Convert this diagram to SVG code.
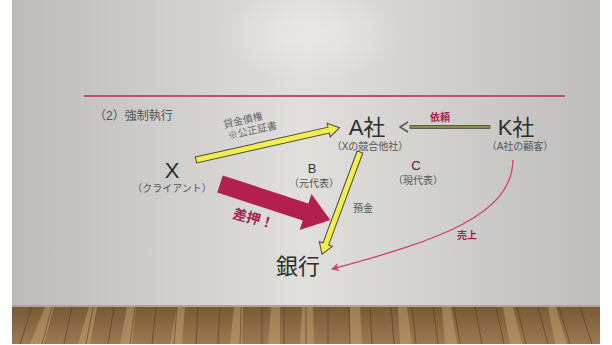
<svg xmlns="http://www.w3.org/2000/svg" width="612" height="345" viewBox="0 0 612 345">
<defs>
<linearGradient id="wall" x1="0" y1="0" x2="1" y2="0">
<stop offset="0" stop-color="#bdbbb9"/>
<stop offset="0.5" stop-color="#e0dfdc"/>
<stop offset="1" stop-color="#bfbdbb"/>
</linearGradient>
<radialGradient id="glow" cx="0.5" cy="0.5" r="0.5">
<stop offset="0" stop-color="#e9e8e5" stop-opacity="1"/>
<stop offset="1" stop-color="#e9e8e5" stop-opacity="0"/>
</radialGradient>
<linearGradient id="floor" x1="0" y1="0" x2="0" y2="1">
<stop offset="0" stop-color="#7a5a36"/>
<stop offset="1" stop-color="#9a7a52"/>
</linearGradient>
<marker id="pinkHead" markerWidth="8" markerHeight="8" refX="7" refY="4" orient="auto" markerUnits="userSpaceOnUse">
<path d="M0,0 L8,4 L0,8 L2,4 Z" fill="#d04070"/>
</marker>
<style>
.big{font-family:"Liberation Sans","Noto Sans CJK JP",sans-serif;font-size:22px;fill:#2e2e2e}
.sub{font-family:"Liberation Sans","Noto Sans CJK JP",sans-serif;font-size:10px;fill:#555}
.mid{font-family:"Liberation Sans","Noto Sans CJK JP",sans-serif;font-size:13px;fill:#333}
.red{font-family:"Noto Sans CJK JP",sans-serif;font-weight:bold;fill:#a82050}
.yel{fill:#f2ee50;stroke:#4a4a40;stroke-width:1}
</style>
</defs>
<rect width="612" height="345" fill="#ffffff"/>
<rect x="12" y="0" width="588" height="308" fill="url(#wall)"/>
<ellipse cx="310" cy="35" rx="90" ry="45" fill="url(#glow)"/>
<rect x="12" y="305" width="588" height="3" fill="#a9a6a2"/>
<g id="floor">
<rect x="12" y="307" width="588" height="37" fill="url(#floor)"/>
<g fill="#c8a878" opacity="0.45">
<polygon points="30,344 44,344 54,307 45,307"/><polygon points="78,344 90,344 97,307 89,307"/><polygon points="120,344 132,344 136,307 127,307"/>
<polygon points="170,344 182,344 185,307 177,307"/><polygon points="230,344 242,344 243,307 234,307"/><polygon points="268,344 280,344 280,307 271,307"/>
<polygon points="300,344 314,344 313,307 302,307"/><polygon points="350,344 362,344 360,307 350,307"/><polygon points="400,344 412,344 407,307 398,307"/>
<polygon points="445,344 457,344 451,307 442,307"/><polygon points="510,344 522,344 513,307 503,307"/><polygon points="555,344 567,344 556,307 548,307"/>
</g>
<g stroke="#4e3820" stroke-width="1" opacity="0.55">
<line x1="20" y1="344" x2="32" y2="307"/><line x1="42" y1="344" x2="52" y2="307"/><line x1="64" y1="344" x2="72" y2="307"/>
<line x1="86" y1="344" x2="93" y2="307"/><line x1="108" y1="344" x2="114" y2="307"/><line x1="130" y1="344" x2="135" y2="307"/>
<line x1="152" y1="344" x2="156" y2="307"/><line x1="174" y1="344" x2="177" y2="307"/><line x1="196" y1="344" x2="198" y2="307"/>
<line x1="218" y1="344" x2="220" y2="307"/><line x1="240" y1="344" x2="241" y2="307"/><line x1="262" y1="344" x2="262" y2="307"/>
<line x1="284" y1="344" x2="284" y2="307"/><line x1="306" y1="344" x2="306" y2="307"/><line x1="328" y1="344" x2="328" y2="307"/>
<line x1="350" y1="344" x2="349" y2="307"/><line x1="372" y1="344" x2="370" y2="307"/><line x1="394" y1="344" x2="391" y2="307"/>
<line x1="416" y1="344" x2="412" y2="307"/><line x1="438" y1="344" x2="433" y2="307"/><line x1="460" y1="344" x2="454" y2="307"/>
<line x1="482" y1="344" x2="475" y2="307"/><line x1="504" y1="344" x2="496" y2="307"/><line x1="526" y1="344" x2="517" y2="307"/>
<line x1="548" y1="344" x2="538" y2="307"/><line x1="570" y1="344" x2="559" y2="307"/><line x1="592" y1="344" x2="580" y2="307"/>
</g>
</g>
<rect x="84" y="95" width="481" height="2" fill="#c05070"/>
<text x="94" y="120" class="sub" style="font-size:12px">（2）強制執行</text>

<g id="connectors">
<g id="e-x-a" transform="translate(196,160) rotate(-12.7)">
<polygon class="yel" points="0,-3 136,-3 136,-7 147,0 136,7 136,3 0,3"/>
</g>
<g transform="translate(226,136) rotate(-12.7)">
<text x="0" y="-8" class="sub" style="fill:#666">貸金債権</text>
<text x="2" y="4" class="sub" style="fill:#666">※公正証書</text>
</g>
<g id="e-a-bank" transform="translate(360,152) rotate(110.4)">
<polygon class="yel" points="0,-3 98,-3 98,-7 109,0 98,7 98,3 0,3"/>
</g>
<text x="353" y="212" class="sub">預金</text>
<g id="e-k-a">
<polygon points="490,125.5 410,125.5 410,128.5 490,128.5" fill="#8c8c3c" stroke="#4a4a40" stroke-width="0.8"/>
<path d="M408,122 L400,127 L408,132" fill="none" stroke="#555" stroke-width="1.5"/>
</g>
<text x="440" y="121" class="red" style="font-size:10px" text-anchor="middle">依頼</text>
<g id="e-sashiosae" transform="translate(220,184) rotate(18.1)">
<polygon points="0,-9 90,-9 90,-19 116,0 90,19 90,9 0,9" fill="#b3204e"/>
</g>
<text transform="translate(232,218) rotate(15)" class="red" style="font-size:14px">差押！</text>
<path id="e-k-bank" d="M513,160 C512,215 440,240 332,269" fill="none" stroke="#d04070" stroke-width="1.3" marker-end="url(#pinkHead)"/>
<text x="457" y="239" class="red" style="font-size:10px">売上</text>
</g>

<g id="node-x">
<text x="172" y="178" class="big" text-anchor="middle">X</text>
<text x="172" y="192" class="sub" text-anchor="middle">（クライアント）</text>
</g>
<g id="node-a">
<text x="367" y="135" class="big" text-anchor="middle">A社</text>
<text x="370" y="150" class="sub" text-anchor="middle">（Xの競合他社）</text>
</g>
<g id="node-k">
<text x="516" y="135" class="big" text-anchor="middle">K社</text>
<text x="520" y="150" class="sub" text-anchor="middle">（A社の顧客）</text>
</g>
<g id="node-b">
<text x="312" y="173" class="mid" text-anchor="middle">B</text>
<text x="314" y="187" class="sub" text-anchor="middle">（元代表）</text>
</g>
<g id="node-c">
<text x="416" y="170" class="mid" text-anchor="middle">C</text>
<text x="418" y="184" class="sub" text-anchor="middle">（現代表）</text>
</g>
<g id="node-bank">
<text x="298" y="274" class="big" text-anchor="middle">銀行</text>
</g>
</svg>
